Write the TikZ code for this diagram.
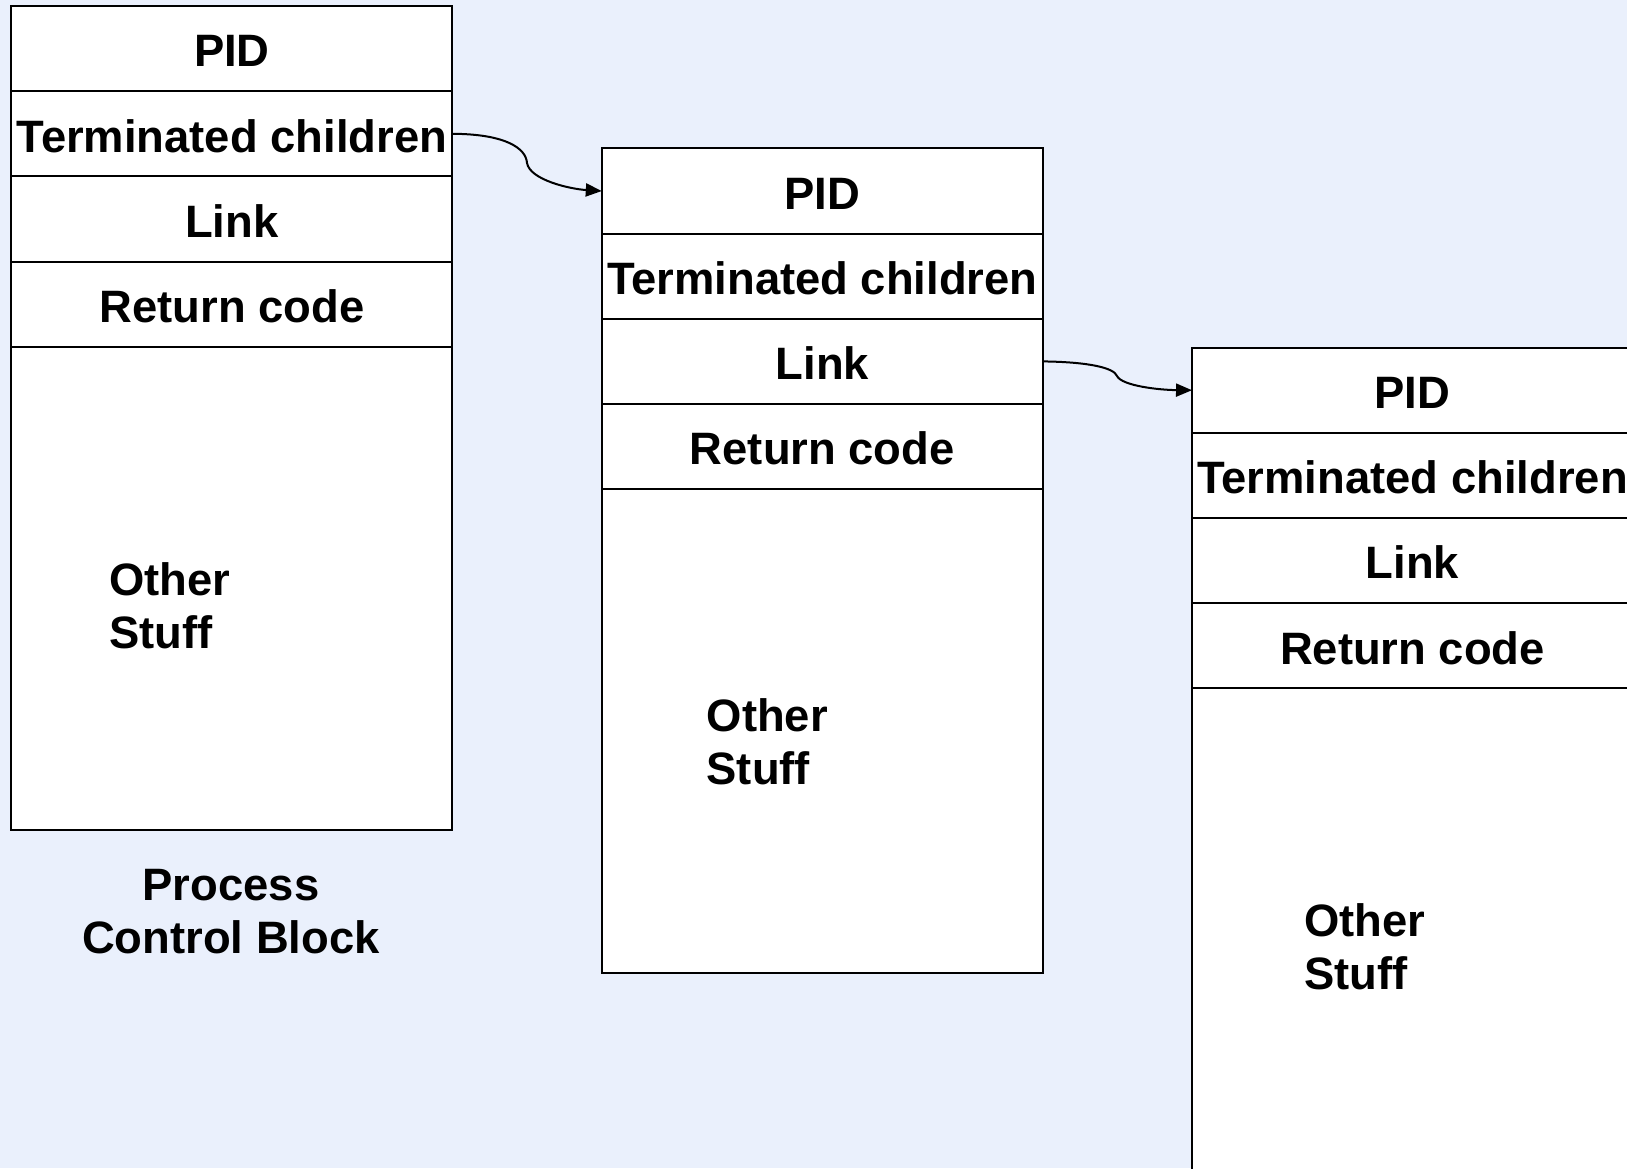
\documentclass[tikz,border=0pt]{standalone}
\usepackage{fontspec}
\setmainfont{Liberation Sans}
\usetikzlibrary{arrows.meta}
\definecolor{bgblue}{HTML}{EAF0FC}
\tikzset{
  cell/.style={draw=black, fill=white, line width=2pt, minimum width=441pt, minimum height=85.2pt, inner sep=0pt, outer sep=0pt, anchor=north west, text height=36.5pt, text depth=0pt, font=\bfseries\fontsize{45.4}{53}\selectfont},
  bigcell/.style={cell, minimum height=483.5pt},
  txt/.style={inner sep=0pt, align=left, anchor=west, font=\bfseries\fontsize{45.4}{53}\selectfont},
  conn/.style={line width=2pt, -{Triangle[length=16pt,width=13pt]}}
}
\begin{document}
\begin{tikzpicture}[x=1pt,y=-1pt]
\fill[bgblue] (0,0) rectangle (1627,1168);
\useasboundingbox (0,0) rectangle (1627,1168);
\clip (0,0) rectangle (1627,1168);
% Block 1
\node[cell] (a1) at (11.4,6) {PID};
\node[cell] (a2) at (11.4,91.2) {Terminated children};
\node[cell] (a3) at (11.4,176.4) {Link};
\node[cell] (a4) at (11.4,261.6) {Return code};
\node[bigcell] (a5) at (11.4,346.8) {};
\node[txt] (a6) at (109,606) {Other\\Stuff};
\node[inner sep=0pt, align=center, font=\bfseries\fontsize{45.4}{53}\selectfont] (lbl) at (231,912) {Process\\Control Block};
% Block 2
\node[cell] (b1) at (601.8,148.4) {PID};
\node[cell] (b2) at (601.8,233.6) {Terminated children};
\node[cell] (b3) at (601.8,318.8) {Link};
\node[cell] (b4) at (601.8,404) {Return code};
\node[bigcell] (b5) at (601.8,489.2) {};
\node[txt] (b6) at (706.5,742) {Other\\Stuff};
% Block 3
\node[cell] (c1) at (1192,347.6) {PID};
\node[cell] (c2) at (1192,432.8) {Terminated children};
\node[cell] (c3) at (1192,518) {Link};
\node[cell] (c4) at (1192,603.2) {Return code};
\node[bigcell] (c5) at (1192,688.4) {};
\node[txt] (c6) at (1304,947) {Other\\Stuff};
% connectors
\draw[conn] (a2.east) .. controls (505,134) and (526,148) .. (527,163) .. controls (530,180) and (570,189) .. (b1.west);
\draw[conn] (b3.east) .. controls (1090,362) and (1114,368) .. (1117,376) .. controls (1122,386) and (1160,390) .. (c1.west);
\end{tikzpicture}
\end{document}
